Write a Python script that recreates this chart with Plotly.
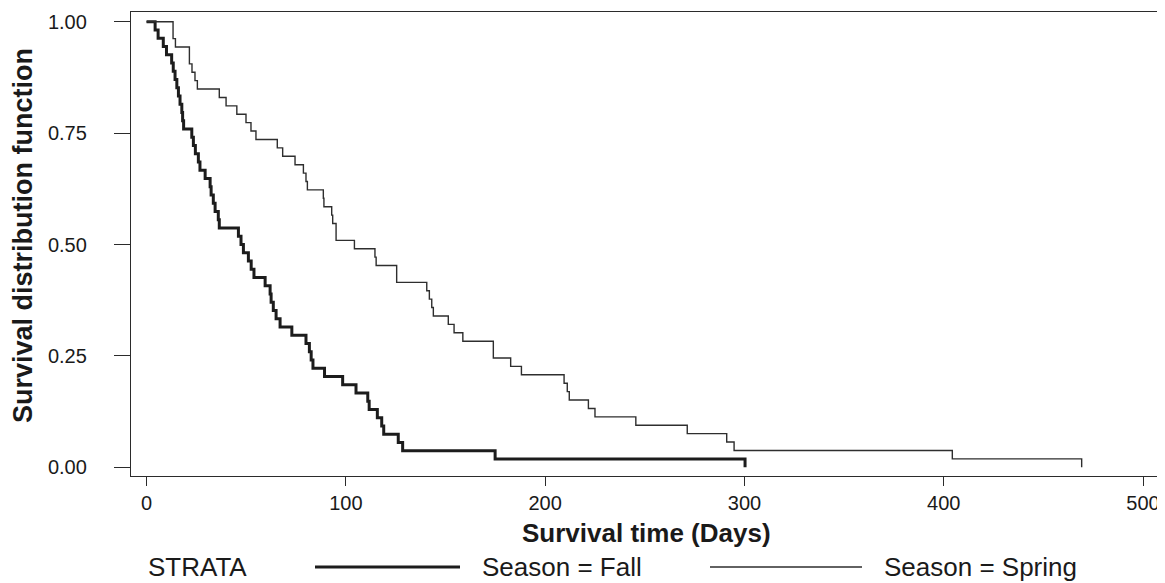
import plotly.graph_objects as go

# ---------------- data ----------------
fall_n = 54
spring_n = 53

# event (death) times in days, Season = Fall
fall_times = [4.3, 5.8, 8.4, 10.0, 12.6, 13.4, 14.3, 15.2, 16.0, 16.8, 17.7, 18.1, 18.6,
              22.7, 23.5, 24.5, 26.0, 26.8, 29.4, 31.9, 32.4, 33.5, 34.4, 36.0, 36.5,
              46.1, 47.4, 48.6, 51.1, 52.5, 53.9, 59.5, 62.0, 62.5, 63.6, 65.0, 67.0,
              72.9, 80.0, 81.7, 82.6, 83.5, 89.3, 98.4, 105.1, 111.0, 111.7, 115.8,
              118.0, 119.0, 126.3, 128.5, 174.9, 300.3]

# event (death) times in days, Season = Spring
spring_times = [13.3, 13.3, 14.5, 21.5, 21.5, 22.8, 24.3, 25.5, 36.5, 39.9, 45.3, 49.9,
                52.4, 54.9, 65.6, 68.3, 74.5, 78.7, 80.0, 80.7, 88.7, 89.0, 92.9, 93.4,
                95.1, 95.1, 104.3, 114.6, 115.2, 125.5, 125.5, 140.6, 141.9, 143.1, 143.9,
                151.4, 154.3, 158.7, 174.0, 174.0, 182.7, 188.1, 209.5, 211.1, 212.1,
                221.7, 225.0, 245.5, 271.3, 291.1, 294.8, 404.3, 469.2]

x_ticks = [0, 100, 200, 300, 400, 500]
y_ticks = [0.0, 0.25, 0.5, 0.75, 1.0]
y_ticktext = ["0.00", "0.25", "0.50", "0.75", "1.00"]

x_title = "Survival time (Days)"
y_title = "Survival distribution function"
legend_title = "STRATA"
series_names = ["Season = Fall", "Season = Spring"]


def km_steps(times, n):
    xs = [0.0]
    ys = [1.0]
    for i, t in enumerate(sorted(times)):
        xs.append(t)
        ys.append((n - i - 1) / n)
    return xs, ys


FONT = "Liberation Sans, Arial, sans-serif"
INK = "#2b2b2b"
TXT = "#1a1a1a"
FALL_C, SPRING_C = "#1c1c1c", "#2e2e2e"
FALL_W, SPRING_W = 3, 1.4

fig = go.Figure()
fx, fy = km_steps(fall_times, fall_n)
sx, sy = km_steps(spring_times, spring_n)
fig.add_trace(go.Scatter(x=fx, y=fy, mode="lines", name=series_names[0],
                         line=dict(shape="hv", color=FALL_C, width=FALL_W),
                         showlegend=False))
fig.add_trace(go.Scatter(x=sx, y=sy, mode="lines", name=series_names[1],
                         line=dict(shape="hv", color=SPRING_C, width=SPRING_W),
                         showlegend=False))

# the page has an 8px body margin: the figure starts at screen (8, 8)
OFF = 8
SW, SH = 1165, 583
W, H = SW - OFF, SH - OFF
# plot area in screen pixels
L, R, T, B = 131, 1159, 12, 476


def px(xs_):
    return (xs_ - L) / (R - L)


def py(ys_):
    return (B - ys_) / (B - T)


# legend row (STRATA, line sample + label per series)
leg_y = py(567)
fig.add_shape(type="line", xref="paper", yref="paper", x0=px(315), x1=px(460), y0=leg_y, y1=leg_y,
              line=dict(color=FALL_C, width=FALL_W))
fig.add_shape(type="line", xref="paper", yref="paper", x0=px(710), x1=px(862), y0=leg_y, y1=leg_y,
              line=dict(color=SPRING_C, width=SPRING_W))
for txt, xx in [(legend_title, 146), (series_names[0], 480), (series_names[1], 882)]:
    fig.add_annotation(text=txt, xref="paper", yref="paper", x=px(xx), y=leg_y,
                       xanchor="left", yanchor="middle", showarrow=False,
                       font=dict(family=FONT, size=26, color=TXT))

# axis titles
fig.add_annotation(text="<b>%s</b>" % x_title, xref="paper", yref="paper",
                   x=px(646), y=py(533), xanchor="center", yanchor="middle",
                   showarrow=False, font=dict(family=FONT, size=26, color=TXT))
fig.add_annotation(text="<b>%s</b>" % y_title, xref="paper", yref="paper",
                   x=px(23), y=py(236), xanchor="center", yanchor="middle",
                   textangle=-90, showarrow=False,
                   font=dict(family=FONT, size=27, color=TXT))

fig.update_layout(
    width=W, height=H,
    margin=dict(l=L - OFF, r=SW - R, t=T - OFF, b=SH - B, pad=0),
    plot_bgcolor="white", paper_bgcolor="white",
    font=dict(family=FONT, color=TXT),
    xaxis=dict(range=[-7.8, 508.0], tickvals=x_ticks, ticks="outside", ticklen=9,
               tickwidth=1.3, tickcolor=INK, showline=True, mirror=True, linecolor=INK,
               linewidth=1.3, showgrid=False, zeroline=False, ticklabelstandoff=0,
               tickfont=dict(family=FONT, size=20, color=TXT)),
    yaxis=dict(range=[-0.0196, 1.022], tickvals=y_ticks, ticktext=y_ticktext,
               ticks="outside", ticklen=16, tickwidth=1.3, tickcolor=INK,
               showline=True, mirror=True, linecolor=INK, linewidth=1.3,
               showgrid=False, zeroline=False, ticklabelstandoff=23,
               tickfont=dict(family=FONT, size=20, color=TXT)),
)

fig.write_html("out.html")
